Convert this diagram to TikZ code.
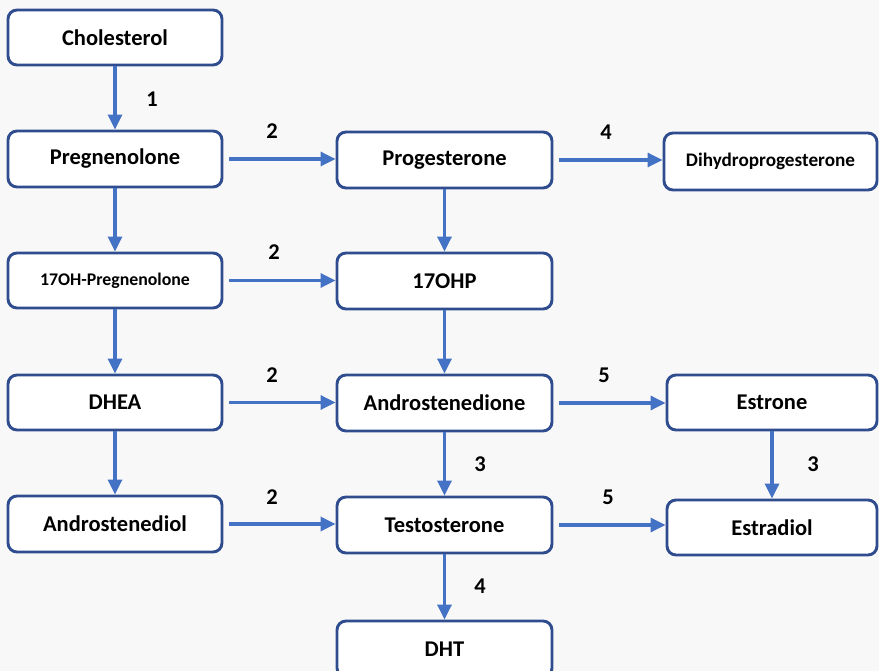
\documentclass[tikz,border=0pt]{standalone}
\usepackage{fontspec}
\setmainfont{Carlito}
\usetikzlibrary{arrows.meta}
\definecolor{boxline}{HTML}{2F4C8E}
\definecolor{flowblue}{HTML}{4472C4}
\definecolor{paper}{HTML}{F8F8F8}
\begin{document}
\begin{tikzpicture}[x=1pt,y=-1pt,
  box/.style={draw=boxline, line width=2.9pt, rounded corners=9pt, fill=white,
    inner sep=0pt, font=\bfseries\fontsize{22.5}{26}\selectfont, text=black},
  smalltext/.style={font=\bfseries\fontsize{17.8}{20}\selectfont},
  widetext/.style={font=\bfseries\fontsize{19.2}{22}\selectfont},
  flow/.style={draw=flowblue, line width=3.2pt,
    -{Triangle[length=15pt,width=14pt]}},
  gap/.style={shorten <=6pt},
  enz/.style={font=\bfseries\fontsize{22.5}{26}\selectfont, text=black, inner sep=0pt}
]
\useasboundingbox (0,0) rectangle (879,671);
\fill[paper] (0,0) rectangle (879,671);
\clip (0,0) rectangle (879,671);

% left column
\node[box, minimum width=214pt, minimum height=55pt] (chol)  at (115,37.5) {Cholesterol};
\node[box, minimum width=214pt, minimum height=56pt] (preg)  at (115,159)  {Pregnenolone};
\node[box, minimum width=214pt, minimum height=55pt, smalltext] (ohpreg) at (115,280.5) {17OH-Pregnenolone};
\node[box, minimum width=214pt, minimum height=55pt] (dhea)  at (115,402.5) {DHEA};
\node[box, minimum width=214pt, minimum height=56pt] (adiol) at (115,524)  {Androstenediol};

% middle column
\node[box, minimum width=215pt, minimum height=56pt] (prog)  at (444.5,160) {Progesterone};
\node[box, minimum width=215pt, minimum height=56pt] (ohp)   at (444.5,281) {17OHP};
\node[box, minimum width=215pt, minimum height=56pt] (adione) at (444.5,403) {Androstenedione};
\node[box, minimum width=215pt, minimum height=56pt] (testo) at (444.5,525) {Testosterone};
\node[box, minimum width=215pt, minimum height=56pt] (dht)   at (444.5,649) {DHT};

% right column
\node[box, minimum width=213pt, minimum height=57pt, widetext] (dhp) at (770.5,161.5) {Dihydroprogesterone};
\node[box, minimum width=210pt, minimum height=55pt] (estrone)  at (772,402.5) {Estrone};
\node[box, minimum width=210pt, minimum height=55pt] (estradiol) at (772,527.5) {Estradiol};

% vertical conversions
\draw[flow] (chol.south) -- (preg.north);
\draw[flow] (preg.south) -- (ohpreg.north);
\draw[flow] (ohpreg.south) -- (dhea.north);
\draw[flow] (dhea.south) -- (adiol.north);
\draw[flow] (prog.south) -- (ohp.north);
\draw[flow] (ohp.south) -- (adione.north);
\draw[flow] (adione.south) -- (testo.north);
\draw[flow] (testo.south) -- (dht.north);
\draw[flow] (estrone.south) -- (estradiol.north);

% horizontal conversions
\draw[flow, gap] (preg.east) -- (preg.east -| prog.west);
\draw[flow, gap] (ohpreg.east) -- (ohpreg.east -| ohp.west);
\draw[flow, gap] (dhea.east) -- (dhea.east -| adione.west);
\draw[flow, gap] (adiol.east) -- (adiol.east -| testo.west);
\draw[flow, gap] (prog.east) -- (prog.east -| dhp.west);
\draw[flow, gap] (adione.east) -- (adione.east -| estrone.west);
\draw[flow, gap] (testo.east) -- (testo.east -| estradiol.west);

% enzyme numbers
\node[enz] (e1)  at (152,99)  {1};
\node[enz] (e2a) at (272,131) {2};
\node[enz] (e2b) at (274,252) {2};
\node[enz] (e2c) at (272,375) {2};
\node[enz] (e2d) at (272,497) {2};
\node[enz] (e4a) at (606,132) {4};
\node[enz] (e5a) at (604,375) {5};
\node[enz] (e5b) at (608,497) {5};
\node[enz] (e3a) at (480,464) {3};
\node[enz] (e3b) at (813,464) {3};
\node[enz] (e4b) at (480,586) {4};
\end{tikzpicture}
\end{document}
